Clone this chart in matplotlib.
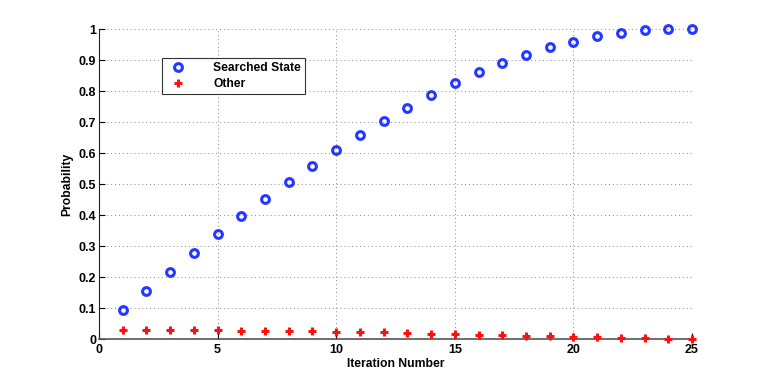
#!/usr/bin/env python3

import matplotlib
matplotlib.use('Agg')
import matplotlib.pyplot as plt
import numpy as np

iterations = list(range(1, 26))
searched = [0.0935, 0.156, 0.216, 0.277, 0.338, 0.396, 0.453, 0.506, 0.559, 0.610,
            0.657, 0.704, 0.747, 0.787, 0.825, 0.860, 0.889, 0.916, 0.941, 0.959,
            0.976, 0.988, 0.996, 0.999, 1.0]
other = [0.030, 0.030, 0.030, 0.029, 0.029, 0.028, 0.027, 0.026, 0.026, 0.025,
         0.023, 0.022, 0.020, 0.018, 0.016, 0.015, 0.013, 0.012, 0.011, 0.009,
         0.006, 0.005, 0.003, 0.001, 0.0]
xticks = [0, 5, 10, 15, 20, 25]
yticks = [0, 0.1, 0.2, 0.3, 0.4, 0.5, 0.6, 0.7, 0.8, 0.9, 1]
ytick_labels = ['0', '0.1', '0.2', '0.3', '0.4', '0.5', '0.6', '0.7', '0.8', '0.9', '1']

plt.rcParams['font.family'] = ['Liberation Sans', 'DejaVu Sans']
plt.rcParams['font.weight'] = 'bold'

fig = plt.figure(figsize=(7.63, 3.82), dpi=100)
ax = fig.add_axes([0.1297, 0.1118, 0.7773, 0.8122])

ax.plot(iterations, searched, linestyle='none', marker='o', markersize=5.6,
        markerfacecolor='none', markeredgecolor='#2438ff', markeredgewidth=2.2,
        label='Searched State', clip_on=False, zorder=3)
ax.plot(iterations, other, linestyle='none', marker='+', markersize=5.5,
        markeredgecolor='#ff1010', markeredgewidth=2.2,
        label='Other', clip_on=False, zorder=3)

ax.set_xlim(0, 25)
ax.set_ylim(0, 1)
ax.set_xticks(xticks)
ax.set_yticks(yticks)
ax.set_yticklabels(ytick_labels)
ax.tick_params(direction='in', length=4, width=0.8, labelsize=9, pad=2)
ax.tick_params(axis='x', pad=3.5)
ax.grid(True, linestyle=(0, (1, 3)), color='#888888', linewidth=0.7)
ax.set_axisbelow(True)

for side in ['top', 'right']:
    ax.spines[side].set_visible(False)
ax.spines['left'].set_color('#222222')
ax.spines['bottom'].set_color('#555555')
ax.spines['bottom'].set_linewidth(1.2)

ax.set_xlabel('Iteration Number', fontsize=8.7, fontweight='bold', labelpad=1)
ax.set_ylabel('Probability', fontsize=8.7, fontweight='bold', labelpad=4)

leg = ax.legend(loc='upper left', bbox_to_anchor=(0.106, 0.906), fontsize=8.7,
                frameon=True, fancybox=False, edgecolor='black', borderpad=0.35,
                handletextpad=1.9, labelspacing=0.3, handlelength=2.0,
                borderaxespad=0)
leg.get_frame().set_linewidth(0.8)

fig.savefig('out.png', dpi=100)
